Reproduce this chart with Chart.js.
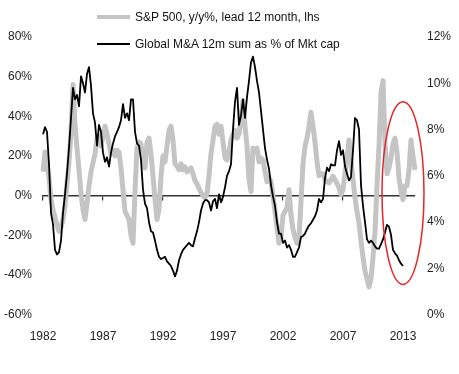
<!DOCTYPE html>
<html>
<head>
<meta charset="utf-8">
<script src="https://cdn.jsdelivr.net/npm/chart.js@4.4.1/dist/chart.umd.min.js"></script>
<style>
  html, body { margin: 0; padding: 0; background: #fff; }
  #wrap { position: relative; width: 459px; height: 374px; font-family: "Liberation Sans", Arial, sans-serif; }
  #legend { position: absolute; left: 97px; top: 4px; font-size: 12px; color: #111; }
  .item { display: flex; align-items: center; height: 26.5px; }
  .swatch { width: 33px; margin-right: 5px; }
</style>
</head>
<body>
<div id="wrap">
  <canvas id="chart" width="459" height="374"></canvas>
  <div id="legend"></div>
</div>
<script>
// S&P 500 y/y %, led 12 months (left axis), every 2 months from Jan 1982
const spxYoY = [
  12, 22, 17, 9, -2, -7, -11, -15, -18, -16, -12, -5, 6, 17, 32, 56, 36, 24, 13, 1,
  -7, -12, -4, 5, 12, 16.6, 21, 29, 30, 25, 30, 35, 31, 26, 21, 23, 20, 23, 22, 14,
  3, -8, -10, -12, -20, -24, 2, 24, 27, 26, 17, 14, 27, 29, 21, 10, -2, -12, -7, 10,
  20, 17, 25, 33, 35, 28, 16, 15, 13, 16, 13, 14.5, 12, 12.5, 14, 11, 7.5, 6, 3.5, 1.5,
  0, -1, 1, 10, 21, 28, 35, 36, 31, 35, 27, 19, 18, 22, 28, 31, 33, 29, 31, 38,
  48, 35, 25, 8, 2, 24, 22, 24, 17, 19, 18, 12, 7, 9, 7, 0, -8, -16, -24, -21,
  -10, -8, -6, 3, -10, -17, -21, -24, -21, -3, 16, 25, 29, 35, 42, 35, 27, 17, 10, 11,
  11, 8, 7, 6.5, 8, 9.7, 8, 6, 4, 0.5, 3, 11, 19, 28, 18, 8, -1, -8, -14, -23,
  -31, -38, -42, -46, -42, -31, -18, 5, 25, 52, 58, 26, 11, 14, 19, 26, 29, 22, 9, 2,
  -2, 5, 5, 13, 28, 20, 13
];

// Global M&A 12m sum as % of market cap (right axis), every 2 months from Jan 1982
const maCap = [
  7.8, 8.1, 7.9, 6.5, 4.4, 3.9, 2.8, 2.6, 2.7, 3.2, 4.4, 5.2, 6.1, 7.2, 8.5, 9.8, 9.3, 9.5, 9.0, 10.3,
  10.0, 9.6, 10.4, 10.7, 9.9, 8.7, 8.3, 7.3, 8.2, 7.9, 7.0, 6.6, 6.8, 6.4, 7.0, 7.4, 7.7, 7.9, 8.1, 8.4,
  9.1, 8.5, 8.7, 8.4, 9.3, 9.3, 7.9, 7.4, 7.3, 6.7, 5.4, 4.8, 4.6, 4.0, 3.6, 3.55, 3.2, 2.8, 2.5, 2.4,
  2.45, 2.5, 2.3, 2.2, 2.1, 1.9, 1.65, 1.9, 2.35, 2.6, 2.8, 2.9, 3.0, 3.1, 3.0, 2.95, 3.3, 3.6, 4.0, 4.5,
  4.8, 4.95, 4.95, 4.85, 4.5, 4.9, 5.0, 4.6, 5.2, 4.85, 5.1, 5.5, 6.0, 6.2, 6.5, 8.0, 9.2, 9.8, 8.2, 8.6,
  9.3, 8.5, 9.4, 10.1, 10.9, 11.15, 10.7, 10.1, 9.6, 8.8, 8.0, 7.2, 6.7, 6.3, 5.6, 5.1, 4.7, 4.0, 3.5, 3.5,
  3.1, 3.2, 2.9, 3.0, 2.8, 2.5, 2.5, 2.7, 2.9, 3.35, 3.4, 3.5, 3.7, 3.85, 3.95, 4.1, 4.25, 4.5, 5.0, 4.85,
  5.0, 5.9, 6.35, 6.2, 6.5, 6.45, 6.45, 7.1, 7.5, 6.9, 7.1, 6.4, 6.1, 5.8, 5.95, 7.1, 8.5, 8.4, 8.0, 5.6,
  4.7, 4.0, 3.25, 3.1, 3.2, 3.1, 2.95, 2.85, 2.85, 3.05, 3.25, 3.55, 3.88, 3.8, 3.45, 2.8, 2.65, 2.55, 2.35, 2.2,
  2.1
];

const tickAt = ["1982-01", "1987-01", "1992-01", "1997-01", "2002-01", "2007-01", "2012-01"];
const tickText = ["1982", "1987", "1992", "1997", "2002", "2007", "2013"];
const leftTicks = [-60, 80, 20];
const rightTicks = [0, 12, 2];

const categories = spxYoY.map((_, i) =>
  (1982 + Math.floor(i / 6)) + "-" + String(1 + (i % 6) * 2).padStart(2, "0"));

const GREY = "#c4c4c4";
const font = { family: "'Liberation Sans', Arial, sans-serif", size: 12 };

// red ellipse around the recent period, in axis units
const highlight = { from: 169.5, to: 190.5, low: -44.8, high: 47.4 };

const ellipsePlugin = {
  id: "ellipse",
  afterDatasetsDraw(chart) {
    const { ctx, scales } = chart;
    const x1 = scales.x.getPixelForValue(highlight.from);
    const x2 = scales.x.getPixelForValue(highlight.to);
    const y1 = scales.y.getPixelForValue(highlight.high);
    const y2 = scales.y.getPixelForValue(highlight.low);
    ctx.save();
    ctx.beginPath();
    ctx.ellipse((x1 + x2) / 2, (y1 + y2) / 2, (x2 - x1) / 2, (y2 - y1) / 2, 0, 0, Math.PI * 2);
    ctx.strokeStyle = "#e3262b";
    ctx.lineWidth = 1.5;
    ctx.stroke();
    ctx.restore();
  }
};

const chart = new Chart(document.querySelector("#chart"), {
  type: "line",
  data: {
    labels: categories,
    datasets: [
      {
        label: "S&P 500, y/y%, lead 12 month, lhs",
        data: spxYoY,
        borderColor: GREY,
        borderWidth: 5,
        yAxisID: "y",
        xAxisID: "x",
        order: 1
      },
      {
        label: "Global M&A 12m sum as % of Mkt cap",
        data: maCap,
        borderColor: "#000",
        borderWidth: 1.8,
        yAxisID: "y1",
        xAxisID: "x",
        order: 0
      }
    ]
  },
  options: {
    responsive: false,
    animation: false,
    events: [],
    elements: { point: { radius: 0 }, line: { tension: 0, borderJoinStyle: "round" } },
    layout: { padding: { top: 37, left: 4, right: 8, bottom: 30 } },
    plugins: { legend: { display: false }, tooltip: { enabled: false } },
    scales: {
      x: {
        type: "category",
        grid: { display: false, drawTicks: false },
        border: { display: false },
        afterFit: (s) => { s.height = 29.4; },
        ticks: {
          autoSkip: false, maxRotation: 0, padding: 15, font, color: "#222",
          callback(v) {
            const k = tickAt.indexOf(this.getLabelForValue(v));
            return k < 0 ? null : tickText[k];
          }
        }
      },
      x2: {
        type: "category",
        axis: "x",
        position: { y: 0 },
        ticks: { display: false },
        grid: {
          drawOnChartArea: false, drawTicks: true, tickLength: 4, lineWidth: 1.2,
          color: (c) => tickAt.includes(categories[c.index]) ? "#333" : "rgba(0,0,0,0)"
        },
        border: { display: true, color: "#333", width: 1.5 }
      },
      y: {
        position: "left",
        min: leftTicks[0], max: leftTicks[1],
        grid: { display: false, drawTicks: false },
        border: { display: false },
        afterFit: (s) => { s.width = 39; },
        ticks: { stepSize: leftTicks[2], padding: 11, font, color: "#222", callback: (v) => v + "%" }
      },
      y1: {
        position: "right",
        min: rightTicks[0], max: rightTicks[1],
        grid: { display: false, drawTicks: false },
        border: { display: false },
        afterFit: (s) => { s.width = 36; },
        ticks: { stepSize: rightTicks[2], padding: 12, font, color: "#222", callback: (v) => v + "%" }
      }
    }
  },
  plugins: [ellipsePlugin]
});

// legend, stacked on two rows like the original
const legend = document.querySelector("#legend");
chart.data.datasets.forEach((ds) => {
  const item = document.createElement("div");
  item.className = "item";
  const sw = document.createElement("div");
  sw.className = "swatch";
  sw.style.height = (ds.borderWidth > 2 ? 4 : 2) + "px";
  sw.style.background = ds.borderColor;
  const txt = document.createElement("span");
  txt.textContent = ds.label;
  item.appendChild(sw);
  item.appendChild(txt);
  legend.appendChild(item);
});
</script>
</body>
</html>
